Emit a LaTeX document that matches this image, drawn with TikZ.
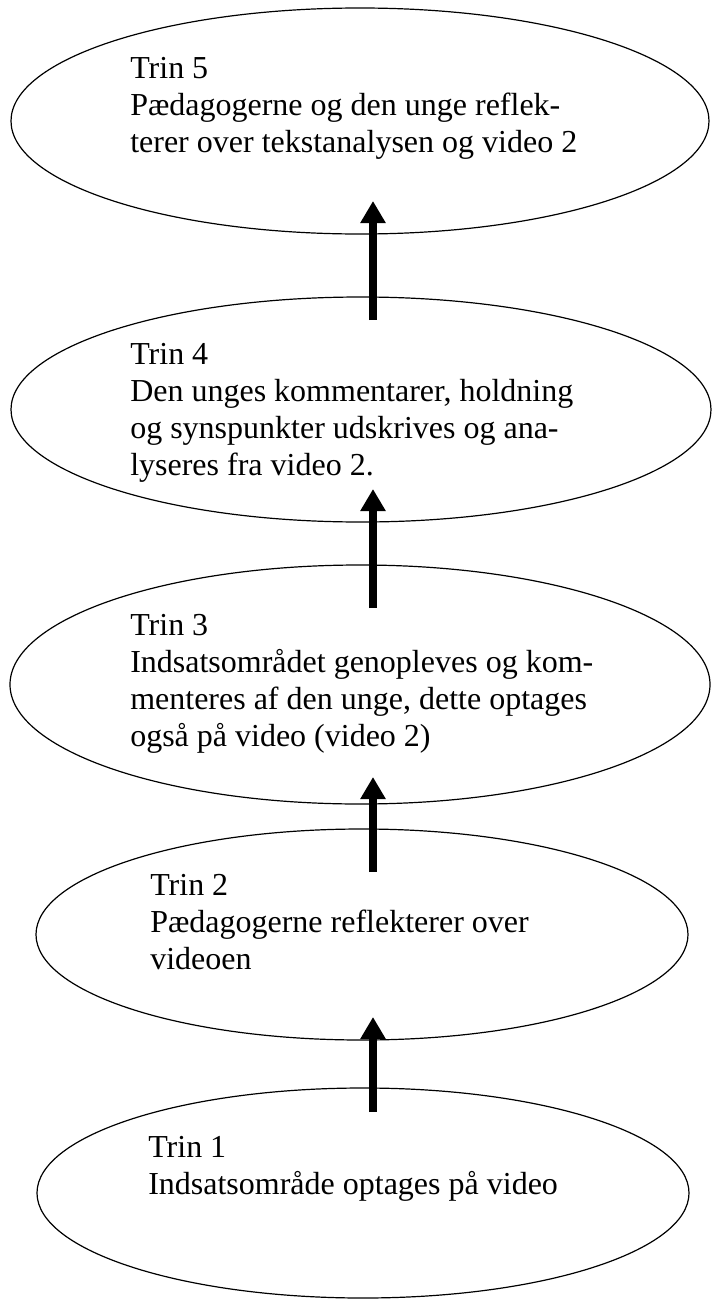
\documentclass[tikz,border=0pt]{standalone}
\usepackage{fontspec}
\setmainfont{Liberation Serif}
\usetikzlibrary{shapes.geometric, arrows.meta}

\begin{document}
\begin{tikzpicture}[x=0.75pt, y=-0.75pt,
  trin/.style={draw=black, ellipse, line width=0.9pt, inner sep=0pt},
  txt/.style={anchor=base west, align=left, inner sep=0pt,
    font=\fontsize{24}{27.75}\selectfont},
  pil/.style={line width=6pt, -{Triangle[width=18pt, length=16.5pt]}}]
\useasboundingbox (0,0) rectangle (714,1299);

\node[trin, minimum width=523.5pt, minimum height=169.5pt] (e5) at (360,121) {};
\node[trin, minimum width=525pt, minimum height=168.75pt] (e4) at (361,409.5) {};
\node[trin, minimum width=525pt, minimum height=179.25pt] (e3) at (360,684.5) {};
\node[trin, minimum width=489pt, minimum height=158.25pt] (e2) at (362,934.5) {};
\node[trin, minimum width=489pt, minimum height=157.5pt] (e1) at (363,1193) {};

\node[txt] (t5) at (130,152)
  {Trin 5\\Pædagogerne og den unge reflek-\\terer over tekstanalysen og video 2};
\node[txt] (t4) at (130,475)
  {Trin 4\\Den unges kommentarer, holdning\\og synspunkter udskrives og ana-\\lyseres fra video 2.};
\node[txt] (t3) at (130,746)
  {Trin 3\\Indsatsområdet genopleves og kom-\\menteres af den unge, dette optages\\også på video (video 2)};
\node[txt] (t2) at (150,969)
  {Trin 2\\Pædagogerne reflekterer over\\videoen};
\node[txt] (t1) at (148,1194)
  {Trin 1\\Indsatsområde optages på video};

\coordinate (s5) at (373,320);  \coordinate (h5) at (373,201);
\coordinate (s4) at (373,608);  \coordinate (h4) at (373,489);
\coordinate (s3) at (373,872);  \coordinate (h3) at (373,777);
\coordinate (s2) at (373,1112); \coordinate (h2) at (373,1017);
\draw[pil] (s5) -- (h5);
\draw[pil] (s4) -- (h4);
\draw[pil] (s3) -- (h3);
\draw[pil] (s2) -- (h2);
\end{tikzpicture}
\end{document}
